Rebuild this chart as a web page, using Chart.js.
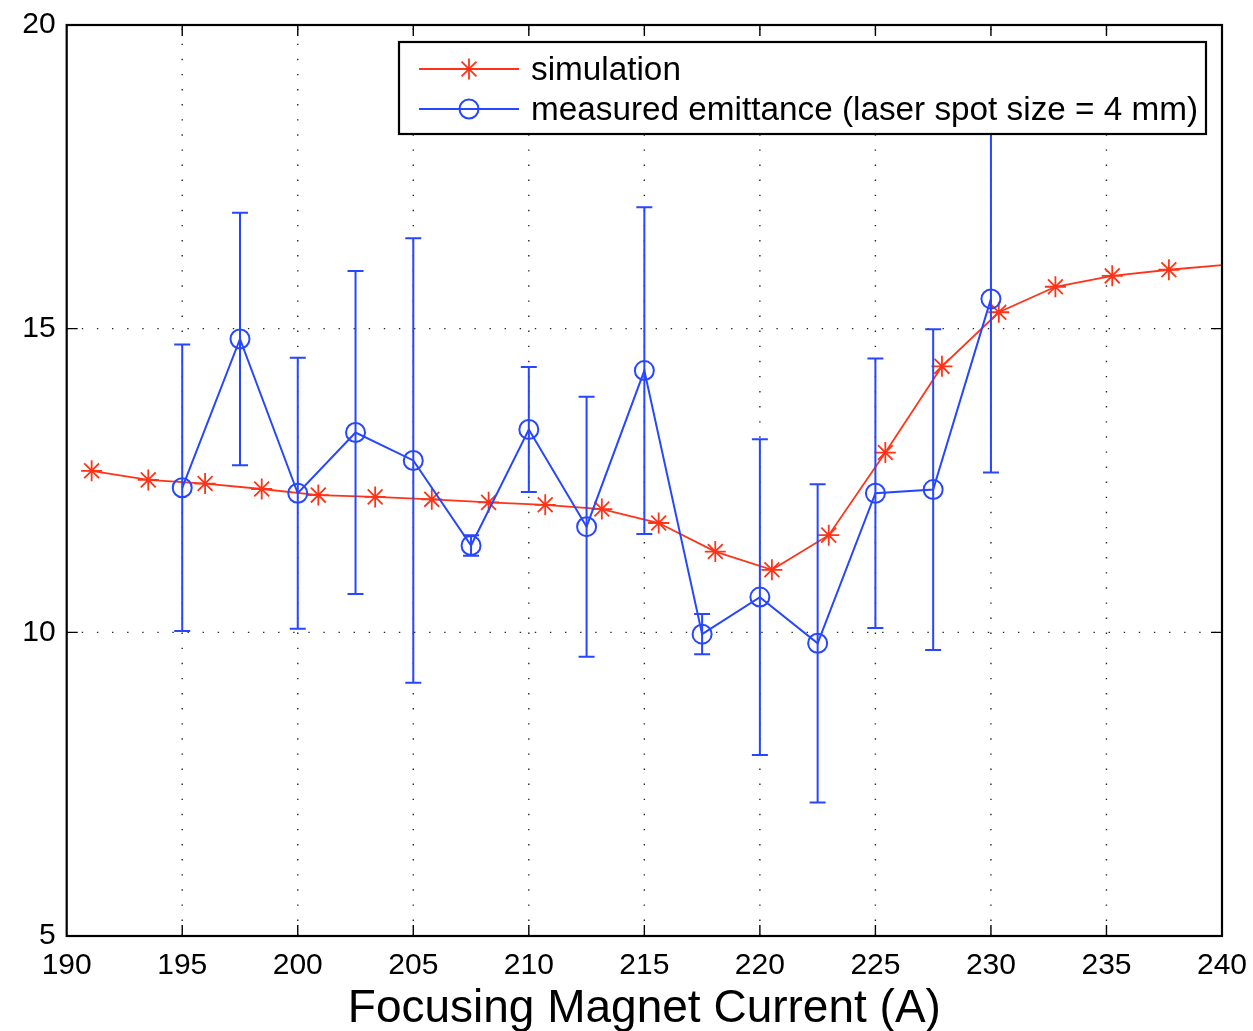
<!DOCTYPE html>
<html>
<head>
<meta charset="utf-8">
<title>Emittance vs focusing magnet current</title>
<script src="https://cdn.jsdelivr.net/npm/chart.js@4.4.1/dist/chart.umd.min.js"></script>
<style>
  html, body { margin: 0; padding: 0; background: #ffffff; }
  #wrap { width: 1253px; height: 1031px; position: relative; }
  canvas { display: block; }
</style>
</head>
<body>
<div id="wrap"><canvas id="chart" width="1253" height="1031"></canvas></div>
<script>
// Simulated emittance (the last sample sits just past the 240 A edge of the axes)
const simCurrent = [191.08, 193.53, 195.99, 198.44, 200.89, 203.35, 205.80, 208.26, 210.71, 213.16,
                    215.62, 218.07, 220.52, 222.98, 225.43, 227.88, 230.34, 232.79, 235.25, 237.70, 240.15];
const simEmittance = [12.66, 12.51, 12.45, 12.36, 12.26, 12.23, 12.19, 12.14, 12.10, 12.03,
                      11.80, 11.33, 11.03, 11.60, 12.96, 14.38, 15.27, 15.69, 15.87, 15.97, 16.05];

// Measured emittance with symmetric error bars (laser spot size = 4 mm)
const measCurrent = [195, 197.5, 200, 202.5, 205, 207.5, 210, 212.5, 215, 217.5, 220, 222.5, 225, 227.5, 230];
const measEmittance = [12.38, 14.83, 12.29, 13.29, 12.83, 11.43, 13.34, 11.74, 14.31, 9.97, 10.58, 9.82, 12.29, 12.35, 15.49];
const measError = [2.36, 2.08, 2.23, 2.66, 3.66, 0.17, 1.03, 2.14, 2.69, 0.33, 2.60, 2.62, 2.22, 2.64, 2.86];

// Axis ticks
const xTicks = [190, 195, 200, 205, 210, 215, 220, 225, 230, 235, 240];
const yTicks = [5, 10, 15, 20];

const seriesLabels = ['simulation', 'measured emittance (laser spot size = 4 mm)'];
const xTitle = 'Focusing Magnet Current (A)';

const RED = '#ff3318';
const BLUE = '#2646ff';
const FONT = '"Liberation Sans", Arial, Helvetica, sans-serif';

const simPoints = simCurrent.map((v, i) => ({ x: v, y: simEmittance[i] }));
const measPoints = measCurrent.map((v, i) => ({ x: v, y: measEmittance[i] }));

// Draws the dotted grid, error bars, the boxed axes with inward ticks, and the legend
const framePlugin = {
  id: 'frame',
  beforeDatasetsDraw(chart) {
    const { ctx, chartArea: a, scales: { x, y } } = chart;
    ctx.save();
    ctx.strokeStyle = 'rgba(0,0,0,0.85)';
    ctx.lineWidth = 1.4;
    ctx.setLineDash([1.4, 13.7]);
    xTicks.slice(1, -1).forEach(v => {
      const px = x.getPixelForValue(v);
      ctx.beginPath();
      ctx.moveTo(px, a.bottom);
      ctx.lineTo(px, a.top);
      ctx.stroke();
    });
    yTicks.slice(1, -1).forEach(v => {
      const py = y.getPixelForValue(v);
      ctx.beginPath();
      ctx.moveTo(a.left, py);
      ctx.lineTo(a.right, py);
      ctx.stroke();
    });
    ctx.restore();
  },
  afterDatasetsDraw(chart) {
    const { ctx, chartArea: a, scales: { x, y } } = chart;

    // error bars
    ctx.save();
    ctx.strokeStyle = BLUE;
    ctx.lineWidth = 2;
    const cap = 8;
    measCurrent.forEach((c, i) => {
      const px = x.getPixelForValue(c);
      const top = y.getPixelForValue(measEmittance[i] + measError[i]);
      const bot = y.getPixelForValue(measEmittance[i] - measError[i]);
      ctx.beginPath();
      ctx.moveTo(px, top); ctx.lineTo(px, bot);
      ctx.moveTo(px - cap, top); ctx.lineTo(px + cap, top);
      ctx.moveTo(px - cap, bot); ctx.lineTo(px + cap, bot);
      ctx.stroke();
    });
    ctx.restore();

    // axes box and inward tick marks
    ctx.save();
    ctx.strokeStyle = '#000';
    ctx.lineWidth = 1.4;
    const tl = 11;
    ctx.beginPath();
    xTicks.slice(1, -1).forEach(v => {
      const px = x.getPixelForValue(v);
      ctx.moveTo(px, a.bottom); ctx.lineTo(px, a.bottom - tl);
      ctx.moveTo(px, a.top); ctx.lineTo(px, a.top + tl);
    });
    yTicks.slice(1, -1).forEach(v => {
      const py = y.getPixelForValue(v);
      ctx.moveTo(a.left, py); ctx.lineTo(a.left + tl, py);
      ctx.moveTo(a.right, py); ctx.lineTo(a.right - tl, py);
    });
    ctx.stroke();
    ctx.lineWidth = 2.2;
    ctx.strokeRect(a.left, a.top, a.right - a.left, a.bottom - a.top);
    ctx.restore();

    // legend
    ctx.save();
    const lx = 399, ly = 42, lw = 807, lh = 92;
    ctx.fillStyle = '#fff';
    ctx.fillRect(lx, ly, lw, lh);
    ctx.strokeStyle = '#000';
    ctx.lineWidth = 2.2;
    ctx.strokeRect(lx, ly, lw, lh);
    const ds = chart.data.datasets;
    const rows = [69, 109];
    rows.forEach((ry, i) => {
      const d = ds[i];
      ctx.strokeStyle = d.borderColor;
      ctx.lineWidth = d.borderWidth;
      ctx.beginPath();
      ctx.moveTo(419, ry); ctx.lineTo(519, ry);
      ctx.stroke();
      ctx.strokeStyle = d.pointBorderColor;
      ctx.fillStyle = 'rgba(0,0,0,0)';
      Chart.helpers.drawPoint(ctx, {
        pointStyle: d.pointStyle, radius: i === 0 ? 10.5 : 9.5, rotation: 0, borderWidth: d.pointBorderWidth
      }, 469, ry);
      ctx.fillStyle = '#000';
      ctx.font = '33.3px ' + FONT;
      ctx.textAlign = 'left';
      ctx.textBaseline = 'middle';
      ctx.fillText(d.label, 531, ry + 2);
    });
    ctx.restore();
  }
};

function fixScale(width, height) {
  return function (s) {
    if (width !== null) s.width = width;
    if (height !== null) s.height = height;
    s.paddingLeft = 0; s.paddingRight = 0; s.paddingTop = 0; s.paddingBottom = 0;
  };
}

new Chart(document.getElementById('chart'), {
  type: 'scatter',
  data: {
    datasets: [
      {
        label: seriesLabels[0],
        data: simPoints,
        showLine: true,
        borderColor: RED,
        backgroundColor: RED,
        borderWidth: 1.8,
        pointStyle: 'star',
        pointRadius: ctx => (ctx.dataIndex === simPoints.length - 1 ? 0 : 10.5),
        pointBorderColor: RED,
        pointBackgroundColor: RED,
        pointBorderWidth: 1.8,
        tension: 0,
        clip: 0,
        order: 2
      },
      {
        label: seriesLabels[1],
        data: measPoints,
        showLine: true,
        borderColor: BLUE,
        backgroundColor: 'rgba(0,0,0,0)',
        borderWidth: 2,
        pointStyle: 'circle',
        pointRadius: 9.5,
        pointBorderColor: BLUE,
        pointBackgroundColor: 'rgba(0,0,0,0)',
        pointBorderWidth: 2,
        tension: 0,
        clip: 0,
        order: 1
      }
    ]
  },
  options: {
    responsive: false,
    devicePixelRatio: 1,
    animation: false,
    events: [],
    layout: { padding: { top: 25, right: 31, left: 0, bottom: 0 } },
    plugins: { legend: { display: false }, tooltip: { enabled: false } },
    scales: {
      x: {
        type: 'linear',
        min: 190,
        max: 240,
        afterBuildTicks: s => { s.ticks = xTicks.map(v => ({ value: v })); },
        afterFit: fixScale(null, 95),
        grid: { display: false, drawTicks: false },
        border: { display: false },
        ticks: {
          autoSkip: false, maxRotation: 0, padding: 12,
          color: '#000', font: { family: FONT, size: 30 }
        },
        title: {
          display: true, text: xTitle, color: '#000',
          font: { family: FONT, size: 46, lineHeight: 1 },
          padding: { top: 0, bottom: -1 }
        }
      },
      y: {
        type: 'linear',
        min: 5,
        max: 20,
        afterBuildTicks: s => { s.ticks = yTicks.map(v => ({ value: v })); },
        afterFit: fixScale(66.7, null),
        grid: { display: false, drawTicks: false },
        border: { display: false },
        ticks: {
          autoSkip: false, padding: 11,
          color: '#000', font: { family: FONT, size: 30 }
        }
      }
    }
  },
  plugins: [framePlugin]
});
</script>
</body>
</html>
